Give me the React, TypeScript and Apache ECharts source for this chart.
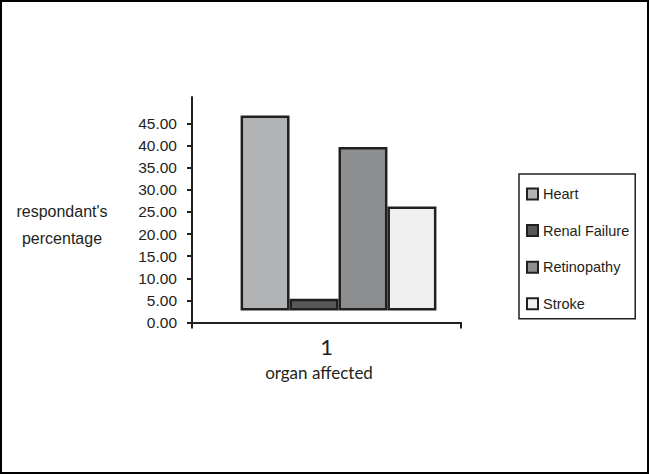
import React, { useEffect, useRef } from "react";
import * as echarts from "echarts";

const categories = ["1"];
const seriesNames = ["Heart", "Renal Failure", "Retinopathy", "Stroke"];
const seriesValues = [44.1, 2.65, 37.0, 23.5];
const seriesColors = ["#b2b3b5", "#58585a", "#8d8e90", "#f0f0f0"];
const yTickValues = [0, 5, 10, 15, 20, 25, 30, 35, 40, 45];
const yAxisTitle = "respondant's\npercentage";
const xAxisTitle = "organ affected";

const INK = "#231f20";
const SANS = "'Liberation Sans', Arial, sans-serif";
const HUMANIST = "Lato, 'Open Sans', sans-serif";
const DEPTH = 12;
const BAR_RATIO = 0.182;

export default function App() {
  const ref = useRef<HTMLDivElement>(null);
  useEffect(() => {
    document.body.style.margin = "0";
    if (!ref.current) return;
    const chart = echarts.init(ref.current, null, { renderer: "svg" });
    const n = seriesNames.length;
    const series = seriesNames.map((name, i) => ({
      type: "custom",
      name,
      encode: { x: 0, y: 1 },
      data: [[0, seriesValues[i]]],
      itemStyle: { color: seriesColors[i], borderColor: INK, borderWidth: 2 },
      renderItem: (params: any, api: any) => {
        const v = api.value(1);
        const top = api.coord([api.value(0), v]);
        const zero = api.coord([api.value(0), 0]);
        const band = api.size([1, 0])[0];
        const bw = band * BAR_RATIO;
        const lw = 2.5;
        const left = top[0] + DEPTH - (n / 2) * bw + i * bw;
        const yTop = top[1] - DEPTH;
        const yBot = zero[1] - DEPTH;
        return {
          type: "rect",
          shape: {
            x: left + lw / 2,
            y: yTop + lw / 2,
            width: bw - lw,
            height: yBot - yTop - lw,
          },
          style: { fill: seriesColors[i], stroke: INK, lineWidth: lw },
        };
      },
    }));
    chart.setOption({
      animation: false,
      backgroundColor: "#ffffff",
      grid: { left: 192, right: 188, top: 97, bottom: 151.5, containLabel: false },
      xAxis: {
        type: "category",
        data: categories,
        boundaryGap: true,
        axisLine: { show: true, lineStyle: { color: INK, width: 2 } },
        axisTick: { show: true, length: 6, lineStyle: { color: INK, width: 2 } },
        axisLabel: { color: INK, fontFamily: HUMANIST, fontSize: 22, margin: 13 },
        splitLine: { show: false },
        name: xAxisTitle,
        nameLocation: "middle",
        nameGap: 50,
        nameTextStyle: {
          color: INK,
          fontFamily: HUMANIST,
          fontSize: 17,
          verticalAlign: "middle",
          padding: [0, 15, 0, 0],
        },
      },
      yAxis: {
        type: "value",
        min: 0,
        max: 51,
        axisLine: { show: true, lineStyle: { color: INK, width: 2 } },
        axisTick: {
          show: true,
          length: 5,
          customValues: yTickValues,
          lineStyle: { color: INK, width: 2 },
        },
        axisLabel: {
          color: INK,
          fontFamily: SANS,
          fontSize: 15.5,
          margin: 15,
          customValues: yTickValues,
          formatter: (v: number) => v.toFixed(2),
        },
        splitLine: { show: false },
      },
      legend: {
        orient: "vertical",
        left: 519,
        top: 174,
        padding: [12, 6, 7, 7],
        itemGap: 20.6,
        itemWidth: 11,
        itemHeight: 11,
        icon: "rect",
        borderColor: INK,
        borderWidth: 1.5,
        textStyle: { color: INK, fontFamily: SANS, fontSize: 14.5, lineHeight: 16 },
        data: seriesNames.map((name, i) => ({
          name,
          icon: "rect",
          itemStyle: { color: seriesColors[i], borderColor: INK, borderWidth: 2 },
        })),
      },
      graphic: [
        {
          type: "text",
          x: 62,
          y: 225,
          style: {
            text: yAxisTitle,
            fill: INK,
            font: `16px ${SANS}`,
            align: "center",
            verticalAlign: "middle",
            lineHeight: 27,
          },
        },
        {
          type: "rect",
          shape: { x: 1, y: 1, width: 647, height: 472 },
          style: { fill: "none", stroke: "#000000", lineWidth: 2 },
          silent: true,
        },
      ],
      series,
    });
    return () => chart.dispose();
  }, []);
  return <div ref={ref} style={{ width: 649, height: 474 }} />;
}
